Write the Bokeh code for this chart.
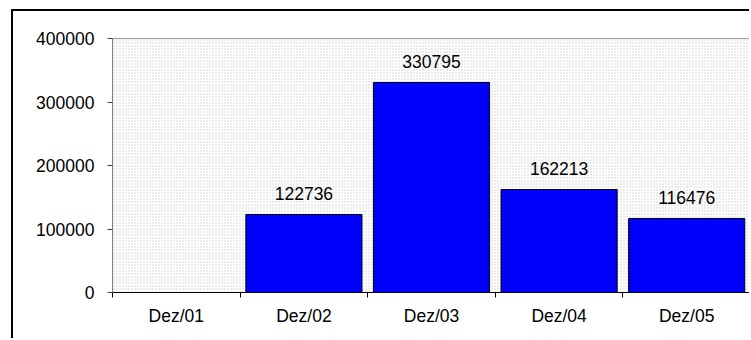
from bokeh.plotting import figure
from bokeh.models import Range1d, FixedTicker, BoxAnnotation, ColumnDataSource
from bokeh.core.properties import value
from bokeh.embed import file_html
from bokeh.resources import INLINE

# Yearly December totals
categories = ["Dez/01", "Dez/02", "Dez/03", "Dez/04", "Dez/05"]
values = [0, 122736, 330795, 162213, 116476]
y_ticks = [0, 100000, 200000, 300000, 400000]

FONT = "Liberation Sans"
FONT_SIZE = "17.5px"

centers = [i + 0.5 for i in range(len(categories))]
src = ColumnDataSource(dict(
    x=centers,
    top=values,
    label=[str(v) if v > 0 else "" for v in values],
))

p = figure(
    width=738, height=329,
    output_backend="svg", toolbar_location=None,
    x_range=Range1d(0, len(categories)),
    y_range=Range1d(0, 400000),
    min_border_left=99, min_border_right=1,
    min_border_top=27, min_border_bottom=48,
    margin=(9, 0, 0, 11),
    styles={"border-left": "2px solid black", "border-top": "2px solid black"},
)

p.grid.visible = False
p.background_fill_color = "white"
p.border_fill_color = "white"
p.outline_line_color = "#808080"
p.outline_line_width = 1

# dotted plot-area fill
p.add_layout(BoxAnnotation(
    fill_color="white", fill_alpha=1.0,
    hatch_pattern="dot", hatch_color="#cdcdcd", hatch_scale=3, hatch_weight=1,
    line_color=None, level="underlay",
))

p.vbar(x="x", top="top", width=0.91, source=src,
       fill_color="#0000FF", line_color="black", line_width=1)

p.text(x="x", y="top", text="label", source=src,
       text_align="center", text_baseline="alphabetic", y_offset=-21,
       text_font=value(FONT), text_font_size=FONT_SIZE, text_color="black")

# x axis: labels centred on categories, ticks on category boundaries
p.xaxis.ticker = FixedTicker(ticks=centers, minor_ticks=list(range(len(categories) + 1)))
p.xaxis.major_label_overrides = {c: lab for c, lab in zip(centers, categories)}
p.xaxis.major_tick_out = 0
p.xaxis.major_tick_in = 0
p.xaxis.minor_tick_out = 5
p.xaxis.minor_tick_in = 0
p.xaxis.minor_tick_line_color = "black"
p.xaxis.axis_line_color = "black"
p.xaxis.major_label_standoff = 8
p.xaxis.major_label_text_font = FONT
p.xaxis.major_label_text_font_size = FONT_SIZE
p.xaxis.major_label_text_color = "black"

p.yaxis.ticker = FixedTicker(ticks=y_ticks)
p.yaxis.formatter.use_scientific = False
p.yaxis.major_label_overrides = {t: str(t) for t in y_ticks}
p.yaxis.minor_tick_line_color = None
p.yaxis.major_tick_out = 5
p.yaxis.major_tick_in = 0
p.yaxis.major_tick_line_color = "#404040"
p.yaxis.axis_line_color = "#808080"
p.yaxis.major_label_standoff = 13
p.yaxis.major_label_text_font = FONT
p.yaxis.major_label_text_font_size = FONT_SIZE
p.yaxis.major_label_text_color = "black"

open("out.html", "w").write(file_html(p, INLINE))
